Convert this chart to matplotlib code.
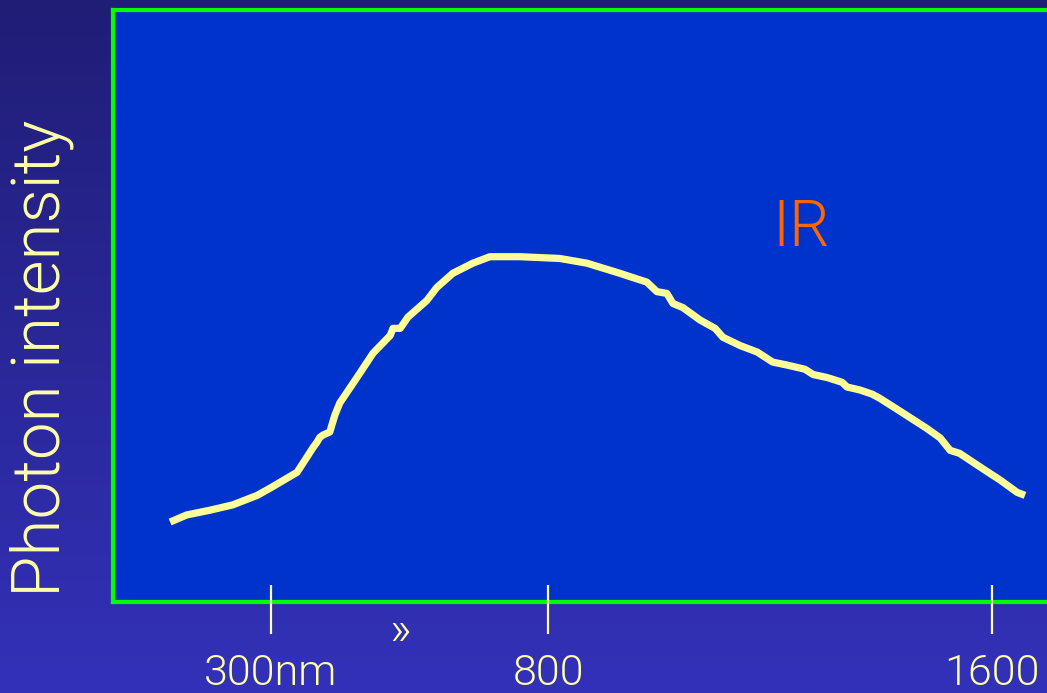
import numpy as np
import matplotlib
matplotlib.use("Agg")
import matplotlib.pyplot as plt
from matplotlib.colors import LinearSegmentedColormap
import matplotlib.transforms as mtransforms

# ---- data (wavelength in nm, relative photon intensity) ----
wavelength = [118, 148, 190, 231, 275, 298, 347, 365, 376, 383, 388, 394, 406, 415,
              424, 455, 484, 515, 520, 533, 547, 581, 599, 628, 664, 695, 749, 821,
              870, 929, 978, 996, 1014, 1025, 1043, 1074, 1101, 1115, 1146, 1177,
              1205, 1231, 1263, 1278, 1303, 1330, 1339, 1362, 1384, 1398, 1440,
              1483, 1507, 1525, 1542, 1579, 1615, 1646, 1660]
intensity = [13.5, 14.7, 15.5, 16.4, 18.0, 19.2, 21.9, 24.5, 26.1, 27.0, 27.8, 28.2,
             28.7, 31.5, 33.6, 37.9, 42.0, 45.0, 46.2, 46.2, 48.1, 50.9, 53.1, 55.5,
             57.2, 58.3, 58.3, 58.0, 57.2, 55.5, 54.0, 52.4, 52.1, 50.4, 49.7, 47.6,
             46.2, 44.7, 43.3, 42.2, 40.5, 40.0, 39.3, 38.4, 37.9, 37.1, 36.3, 35.8,
             35.1, 34.4, 31.9, 29.3, 27.7, 25.6, 25.1, 22.8, 20.6, 18.5, 18.0]
tick_values = [300, 800, 1600]
tick_labels = ["300nm", "800", "1600"]
region_label = "IR"
y_label = "Photon intensity"
break_mark = "\u00bb"

W, H = 1047, 693
fig = plt.figure(figsize=(W / 100, H / 100), dpi=100)

# background gradient
bg = fig.add_axes([0, 0, 1, 1], zorder=-10)
cmap = LinearSegmentedColormap.from_list("bg", ["#201d76", "#3331b9"])
grad = np.linspace(0, 1, 256).reshape(-1, 1)
bg.imshow(grad, aspect="auto", cmap=cmap, extent=[0, 1, 0, 1], origin="upper")
bg.set_axis_off()

# main axes (box extends beyond the right edge of the figure)
left_px, right_px, top_px, bottom_px = 113, 1062, 9.7, 602
ax = fig.add_axes([left_px / W, 1 - bottom_px / H,
                   (right_px - left_px) / W, (bottom_px - top_px) / H])
ax.set_facecolor("#0033cc")
for s in ax.spines.values():
    s.set_color("#00ff00")
    s.set_linewidth(3)

slope, intercept = 0.5544, 104.7  # px per nm
ax.set_xlim((left_px - intercept) / slope, (right_px - intercept) / slope)
ax.set_ylim(0, 100)

ax.plot(wavelength, intensity, color="#ffff99", lw=5.2, solid_capstyle="butt",
        solid_joinstyle="round")

font = "Roboto"
fw = 300
txt_col = "#ffffa8"

ax.set_yticks([])
ax.set_xticks(tick_values, tick_labels)
ax.tick_params(axis="x", length=0, pad=37, labelsize=31, labelcolor=txt_col)
for lab in ax.get_xticklabels():
    lab.set_fontfamily(font)
    lab.set_fontweight(fw)

# tick marks crossing the bottom edge
trans = mtransforms.blended_transform_factory(ax.transData, ax.transAxes)
h_ax = bottom_px - top_px
ax.vlines(tick_values, -32 / h_ax, 17 / h_ax, transform=trans, colors=txt_col,
          lw=1.6, clip_on=False, zorder=5)

# break mark between 300 and 800
ax.text((400 - intercept) / slope, -30 / h_ax, break_mark, transform=trans,
        ha="center", va="center", fontsize=34, color=txt_col, family=font,
        fontweight=fw)

# IR label
ax.text((801 - intercept) / slope, 100 * (bottom_px - 228) / h_ax, region_label,
        ha="center", va="center", fontsize=46, color="#ff6600", family=font,
        fontweight=fw)

ax.set_ylabel(y_label, fontsize=48.5, color=txt_col, family=font, fontweight=fw)
ax.yaxis.label.set_va("center")
ax.yaxis.set_label_coords((42 - left_px) / (right_px - left_px), (bottom_px - 358) / h_ax)

fig.savefig("out.png", dpi=100)
